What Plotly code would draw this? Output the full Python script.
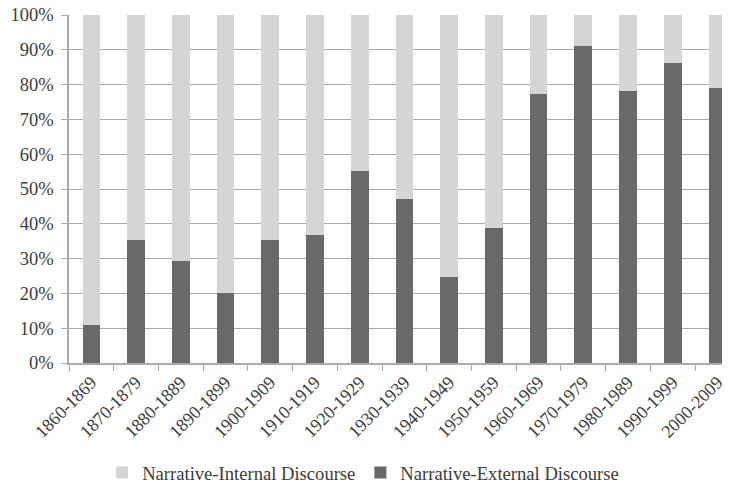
import plotly.graph_objects as go

decades = ["1860-1869", "1870-1879", "1880-1889", "1890-1899", "1900-1909",
           "1910-1919", "1920-1929", "1930-1939", "1940-1949", "1950-1959",
           "1960-1969", "1970-1979", "1980-1989", "1990-1999", "2000-2009"]
external = [10.8, 35.3, 29.2, 20.2, 35.3, 36.7, 55.1, 47.1, 24.8, 38.7,
            77.3, 91.0, 78.3, 86.2, 79.0]
internal = [89.2, 64.7, 70.8, 79.8, 64.7, 63.3, 44.9, 52.9, 75.2, 61.3,
            22.7, 9.0, 21.7, 13.8, 21.0]
y_ticks = [0, 10, 20, 30, 40, 50, 60, 70, 80, 90, 100]

FONT = "Liberation Serif"
TXT = "#3c3c3c"
GRID = "#ababab"

fig = go.Figure()
fig.add_trace(go.Bar(x=decades, y=external, name="Narrative-External Discourse",
                     marker=dict(color="#69696b", line=dict(width=0))))
fig.add_trace(go.Bar(x=decades, y=internal, name="Narrative-Internal Discourse",
                     marker=dict(color="#d4d5d7", line=dict(width=0))))

# page has an 8px body margin, so the figure is 722x476 placed at (8, 8)
fig.update_layout(
    width=722, height=476,
    margin=dict(l=61, r=0, t=7, b=121, autoexpand=False),
    barmode="stack", bargap=0.605,
    plot_bgcolor="white", paper_bgcolor="white",
    font=dict(family=FONT, size=18, color=TXT),
    showlegend=True,
    legend=dict(orientation="h", x=0.445, xanchor="center", y=-0.316,
                yanchor="middle", traceorder="reversed",
                font=dict(family=FONT, size=18.6, color=TXT),
                itemwidth=30, tracegroupgap=0),
    xaxis=dict(range=[-0.5, 14.28], tickangle=-45, tickson="boundaries",
               ticks="outside", ticklen=6, tickcolor=GRID, showline=True,
               linecolor=GRID, linewidth=1.5, showgrid=False, automargin=False,
               tickfont=dict(family=FONT, size=18, color=TXT)),
    yaxis=dict(range=[0, 100], tickvals=y_ticks,
               ticktext=[f"{v}%" for v in y_ticks], ticks="outside", ticklen=6,
               tickcolor=GRID, showline=True, linecolor=GRID, linewidth=1.5,
               showgrid=True, gridcolor=GRID, gridwidth=1.2, zeroline=False,
               ticklabelstandoff=4, automargin=False, ticklabeloverflow="allow",
               tickfont=dict(family=FONT, size=18.5, color=TXT)),
)

fig.write_html("out.html")
